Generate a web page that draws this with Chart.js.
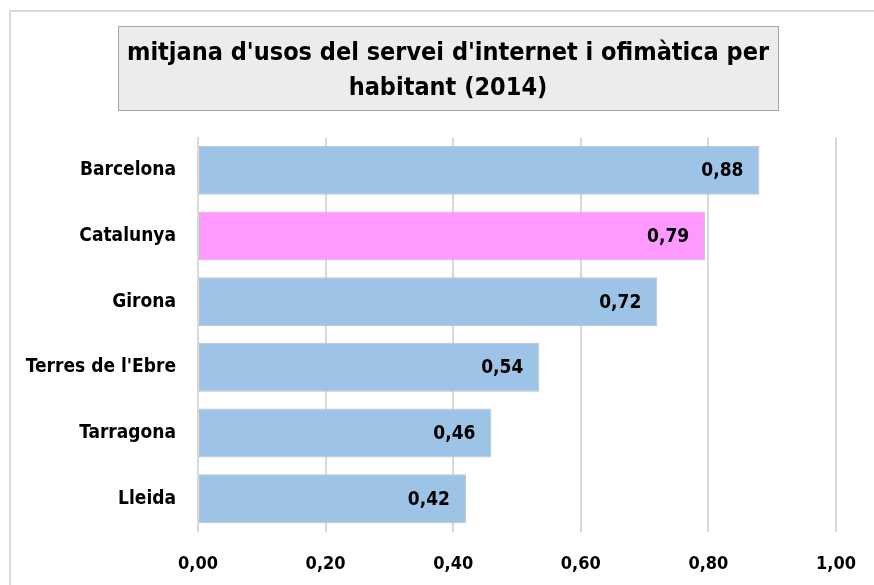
<!DOCTYPE html>
<html>
<head>
<meta charset="utf-8">
<script src="https://cdn.jsdelivr.net/npm/chart.js@4"></script>
<style>
  html, body { margin: 0; padding: 0; background: #fff; }
  #wrap { position: relative; width: 874px; height: 585px; }
</style>
</head>
<body>
<div id="wrap"><canvas id="chart" width="874" height="585"></canvas></div>
<script>
// ---- data ----
const categories = ['Barcelona', 'Catalunya', 'Girona', "Terres de l'Ebre", 'Tarragona', 'Lleida'];
const values = [0.88, 0.795, 0.72, 0.535, 0.46, 0.42];
const valueLabels = ['0,88', '0,79', '0,72', '0,54', '0,46', '0,42'];
const barColors = ['#9DC3E6', '#FF99FF', '#9DC3E6', '#9DC3E6', '#9DC3E6', '#9DC3E6'];
const titleLines = ["mitjana d'usos del servei d'internet i ofimàtica per", 'habitant (2014)'];

const FONT = "'DejaVu Sans Condensed', sans-serif";

// frame around the whole chart + title box
const framePlugin = {
  id: 'frame',
  beforeDraw(chart) {
    const ctx = chart.ctx;
    ctx.save();
    ctx.strokeStyle = '#d9d9d9';
    ctx.lineWidth = 2;
    ctx.beginPath();
    ctx.moveTo(10, 585);
    ctx.lineTo(10, 11);
    ctx.lineTo(874, 11);
    ctx.stroke();
    ctx.restore();
  },
  afterDraw(chart) {
    const ctx = chart.ctx;
    ctx.save();
    ctx.fillStyle = '#ececec';
    ctx.strokeStyle = '#a6a6a6';
    ctx.lineWidth = 1;
    ctx.fillRect(118.5, 26.5, 660, 84);
    ctx.strokeRect(118.5, 26.5, 660, 84);
    ctx.fillStyle = '#000';
    ctx.font = 'bold 25px ' + FONT;
    ctx.textAlign = 'center';
    ctx.textBaseline = 'middle';
    ctx.fillText(titleLines[0], 448, 53);
    ctx.fillText(titleLines[1], 448, 88);
    ctx.restore();
  }
};

// value labels inside the bar ends
const valueLabelPlugin = {
  id: 'valueLabels',
  afterDatasetsDraw(chart) {
    const ctx = chart.ctx;
    const meta = chart.getDatasetMeta(0);
    ctx.save();
    ctx.fillStyle = '#000';
    ctx.font = 'bold 19px ' + FONT;
    ctx.textAlign = 'right';
    ctx.textBaseline = 'middle';
    meta.data.forEach((bar, i) => {
      ctx.fillText(valueLabels[i], bar.x - 16, bar.y + 1);
    });
    ctx.restore();
  }
};

new Chart(document.getElementById('chart'), {
  type: 'bar',
  data: {
    labels: categories,
    datasets: [{
      data: values,
      backgroundColor: barColors,
      borderColor: '#bfbfbf',
      borderWidth: 1,
      borderSkipped: false,
      barPercentage: 0.745,
      categoryPercentage: 1
    }]
  },
  options: {
    indexAxis: 'y',
    responsive: false,
    animation: false,
    layout: { padding: { left: 10, right: 38, top: 137.5, bottom: 0 } },
    plugins: {
      legend: { display: false },
      tooltip: { enabled: false },
      title: { display: false }
    },
    scales: {
      x: {
        min: 0,
        max: 1,
        afterFit(scale) {
          scale.height = 53.5;
          scale.paddingLeft = 0;
          scale.paddingRight = 0;
        },
        grid: { color: '#d9d9d9', lineWidth: 2, drawTicks: false },
        border: { display: false },
        ticks: {
          stepSize: 0.2,
          padding: 22,
          color: '#000',
          font: { family: FONT, size: 18, weight: 'bold' },
          callback: function(value) {
            return value.toFixed(2).replace('.', ',');
          }
        }
      },
      y: {
        afterFit(scale) { scale.width = 188; },
        grid: { display: false, drawTicks: false },
        border: { display: true, color: '#d9d9d9', width: 2 },
        ticks: {
          padding: 22,
          color: '#000',
          font: { family: FONT, size: 19, weight: 'bold' }
        }
      }
    }
  },
  plugins: [framePlugin, valueLabelPlugin]
});
</script>
</body>
</html>
